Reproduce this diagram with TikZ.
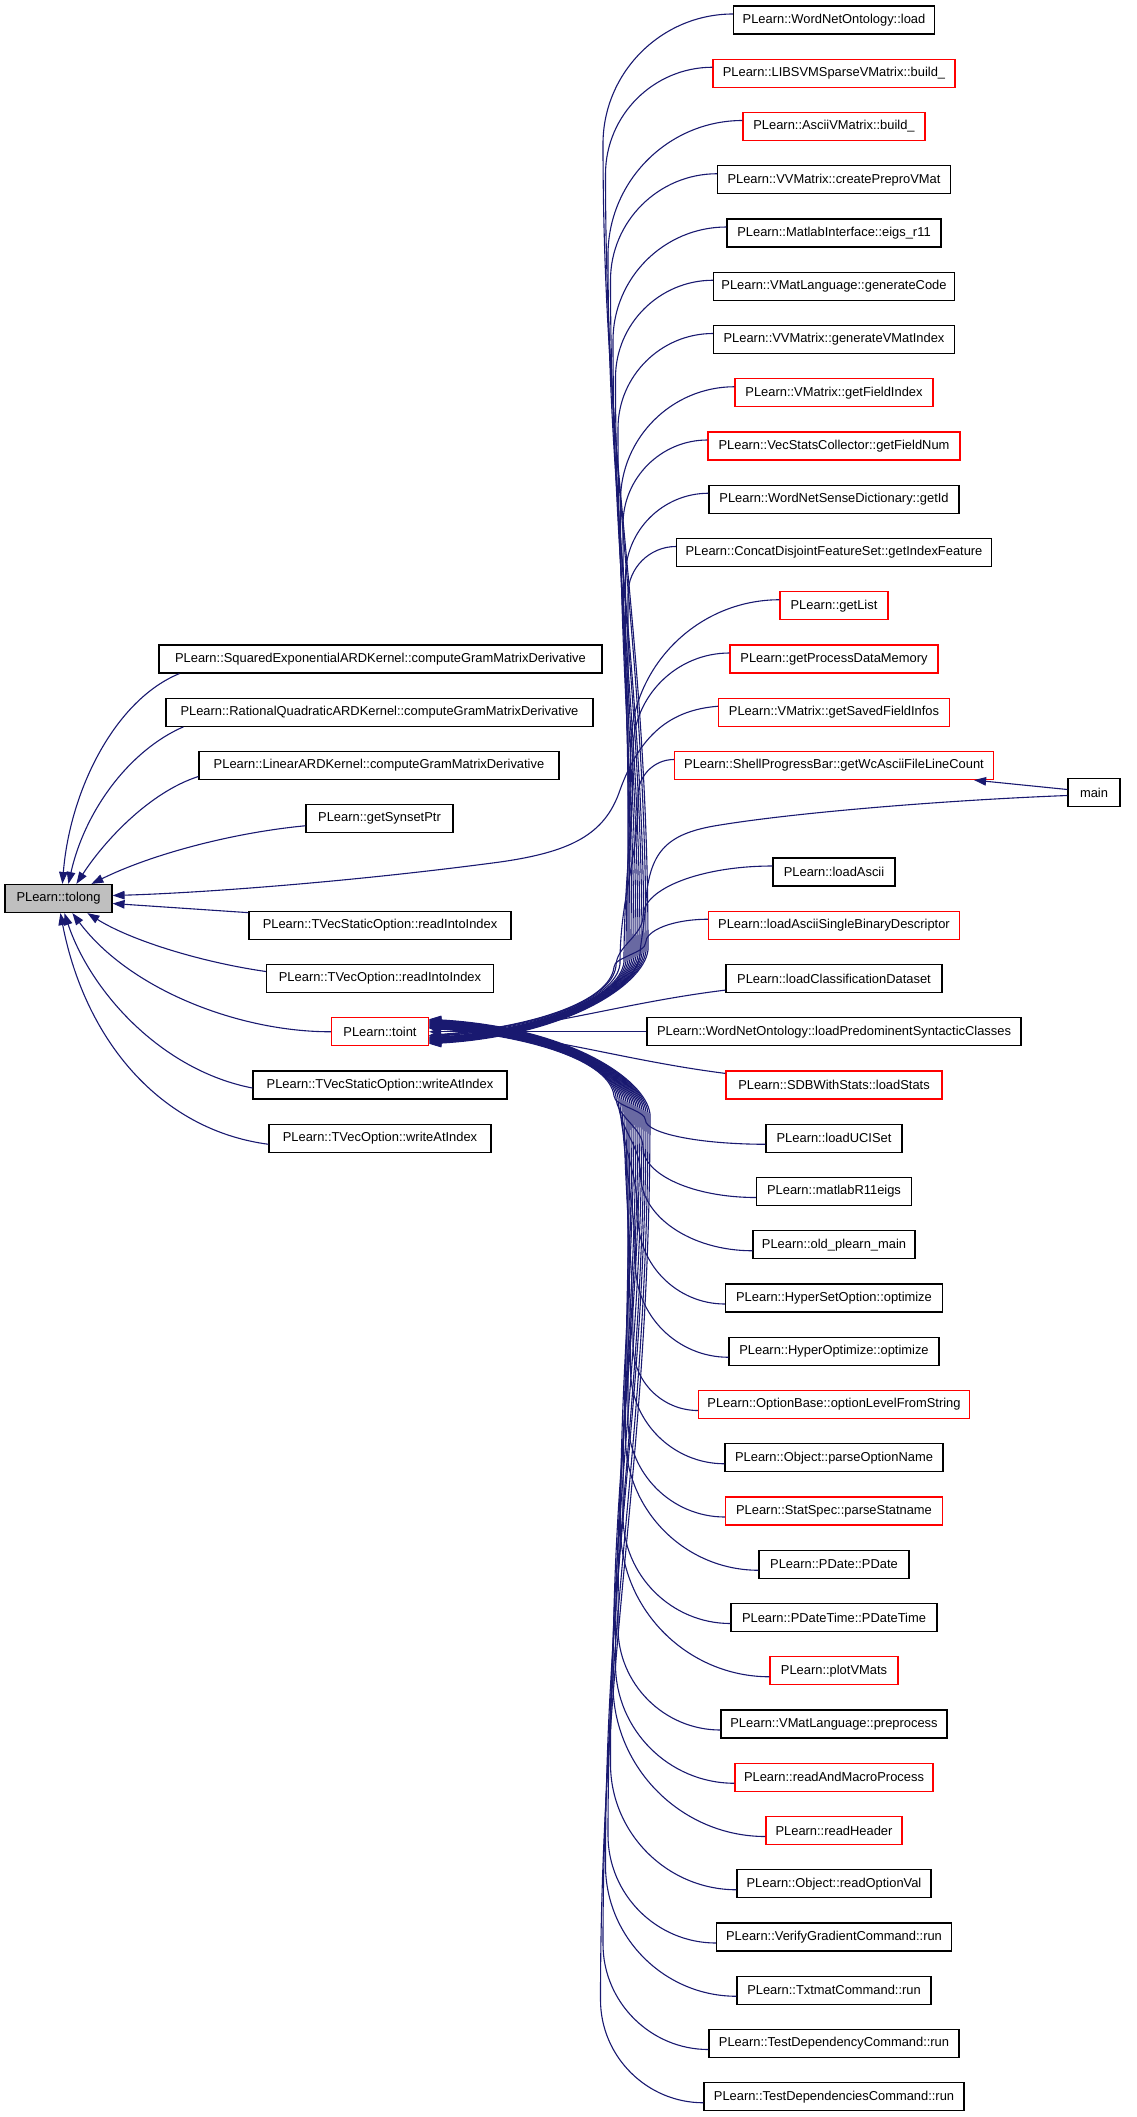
\documentclass[tikz,border=0pt]{standalone}
\usepackage{fontspec}
\setmainfont{Liberation Sans}
\usepackage{tikz}
\usetikzlibrary{arrows.meta,calc,positioning}
\definecolor{edgeblue}{RGB}{25,25,112}
\newdimen\westx
\tikzset{fn/.style={draw=black,rectangle,fill=white,line width=1.2pt,minimum height=28pt,inner xsep=1pt,inner ysep=0pt,font=\fontsize{12.9}{15}\selectfont}}

\begin{document}
\begin{tikzpicture}[>={Triangle[length=12pt,width=8.5pt]}, x=1pt, y=-1pt]
\tikzstyle{call}=[->, draw=edgeblue, line width=1.1pt]
\useasboundingbox (0,0) rectangle (1136,2117);

    \node[fn, fill=gray!50, minimum width=107pt] (tolong) at (58.5,898.5) {PLearn::tolong};

    \node[fn, minimum width=443pt] (sqe) at (380.5,659) {PLearn::SquaredExponentialARDKernel::computeGramMatrixDerivative};
    \node[fn, minimum width=427pt] (rqa) at (379.5,712.25) {PLearn::RationalQuadraticARDKernel::computeGramMatrixDerivative};
    \node[fn, minimum width=360pt] (lin) at (379,765.5) {PLearn::LinearARDKernel::computeGramMatrixDerivative};
    \node[fn, minimum width=147pt] (syn) at (379.5,818.75) {PLearn::getSynsetPtr};
    \node[fn, minimum width=262pt] (tvsr) at (380,925.25) {PLearn::TVecStaticOption::readIntoIndex};
    \node[fn, minimum width=227pt] (tvor) at (380,978.5) {PLearn::TVecOption::readIntoIndex};
    \node[fn, draw=red, minimum width=97pt] (toint) at (380,1031.75) {PLearn::toint};
    \node[fn, minimum width=254pt] (tvsw) at (380,1085) {PLearn::TVecStaticOption::writeAtIndex};
    \node[fn, minimum width=222pt] (tvow) at (380,1138.25) {PLearn::TVecOption::writeAtIndex};

    \node[fn, minimum width=52pt] (main) at (1094,792.5) {main};

\foreach \i/\bw/\col/\txt in {
    0/201/black/{PLearn::WordNetOntology::load},
    1/242/red/{PLearn::LIBSVMSparseVMatrix::build\_},
    2/182/red/{PLearn::AsciiVMatrix::build\_},
    3/233/black/{PLearn::VVMatrix::createPreproVMat},
    4/214/black/{PLearn::MatlabInterface::eigs\_r11},
    5/241/black/{PLearn::VMatLanguage::generateCode},
    6/241/black/{PLearn::VVMatrix::generateVMatIndex},
    7/198/red/{PLearn::VMatrix::getFieldIndex},
    8/252/red/{PLearn::VecStatsCollector::getFieldNum},
    9/250/black/{PLearn::WordNetSenseDictionary::getId},
    10/315/black/{PLearn::ConcatDisjointFeatureSet::getIndexFeature},
    11/108/red/{PLearn::getList},
    12/208/red/{PLearn::getProcessDataMemory},
    13/231/red/{PLearn::VMatrix::getSavedFieldInfos},
    14/319/red/{PLearn::ShellProgressBar::getWcAsciiFileLineCount},
    16/122/black/{PLearn::loadAscii},
    17/251/red/{PLearn::loadAsciiSingleBinaryDescriptor},
    18/216/black/{PLearn::loadClassificationDataset},
    19/374/black/{PLearn::WordNetOntology::loadPredominentSyntacticClasses},
    20/216/red/{PLearn::SDBWithStats::loadStats},
    21/136/black/{PLearn::loadUCISet},
    22/155/black/{PLearn::matlabR11eigs},
    23/162/black/{PLearn::old\_plearn\_main},
    24/217/black/{PLearn::HyperSetOption::optimize},
    25/210/black/{PLearn::HyperOptimize::optimize},
    26/271/red/{PLearn::OptionBase::optionLevelFromString},
    27/218/black/{PLearn::Object::parseOptionName},
    28/217/red/{PLearn::StatSpec::parseStatname},
    29/150/black/{PLearn::PDate::PDate},
    30/206/black/{PLearn::PDateTime::PDateTime},
    31/128/red/{PLearn::plotVMats},
    32/226/black/{PLearn::VMatLanguage::preprocess},
    33/198/red/{PLearn::readAndMacroProcess},
    34/136/red/{PLearn::readHeader},
    35/194/black/{PLearn::Object::readOptionVal},
    36/235/black/{PLearn::VerifyGradientCommand::run},
    37/194/black/{PLearn::TxtmatCommand::run},
    38/250/black/{PLearn::TestDependencyCommand::run},
    39/260/black/{PLearn::TestDependenciesCommand::run}}
{
    \pgfmathsetmacro{\ry}{20+53.25*\i}
    \node[fn, draw=\col, minimum width=\bw pt] (r\i) at (834,\ry) {\txt};
}

    \draw[call] ($(sqe.south west)+(21,0)$) .. controls (115,700) and (70,790) .. ($(tolong.north west)+(58,0)$);
    \draw[call] ($(rqa.south west)+(18,0)$) .. controls (130,750) and (85,810) .. ($(tolong.north west)+(64,0)$);
    \draw[call] ($(lin.west)+(0,11)$) .. controls (150,792) and (105,840) .. ($(tolong.north west)+(72,0)$);
    \draw[call] ($(syn.west)+(0,7)$) .. controls (230,833) and (150,855) .. ($(tolong.north west)+(87,0)$);
    \draw[call] ($(tvsr.north west)+(0,2)$) -- ($(tolong.east)+(0,5)$);
    \draw[call] ($(tvor.west)+(0,-7)$) .. controls (200,962) and (130,940) .. ($(tolong.south west)+(83,0)$);
    \draw[call] (toint.west) .. controls (240,1032) and (130,990) .. ($(tolong.south west)+(68,0)$);
    \draw[call] ($(tvsw.west)+(0,3)$) .. controls (160,1070) and (90,990) .. ($(tolong.south west)+(60,0)$);
    \draw[call] ($(tvow.west)+(0,6)$) .. controls (160,1130) and (85,1040) .. ($(tolong.south west)+(56,0)$);
    \draw[call] ($(r13.west)+(0,-6)$) .. controls (670,710) and (640,735) .. (620,790) .. controls (605,835) and (570,852) .. (500,862) .. controls (350,882) and (200,893) .. ($(tolong.east)+(0,-3)$);

    \draw[call] ($(main.west)+(0,-3)$) -- ($(r14.south east)+(-20,0)$);
    \draw[call] ($(main.west)+(0,3)$) .. controls (950,800) and (800,812) .. (720,825) .. controls (668,833) and (650,850) .. (646,900) .. controls (644,930) and (640,945) .. (640,955) .. controls (634,995) and (560,1029.75) .. ($(toint.east)+(0,6)$);

\foreach \i in {0,...,12,14,16,17}{
    \pgfextractx{\westx}{\pgfpointanchor{r\i}{west}}
    \pgfmathsetmacro{\xo}{\westx}
    \pgfmathsetmacro{\kk}{18-\i}
    \pgfmathsetmacro{\xb}{648-2.5*\kk}
    \pgfmathsetmacro{\xbb}{612+2*\kk}
    \pgfmathsetmacro{\yb}{968-\kk}
    \pgfmathsetmacro{\ys}{20+53.25*\i-6}
    \pgfmathsetmacro{\rr}{min(\xo-\xb,(\yb-\ys)*0.5)}
    \pgfmathsetmacro{\ya}{\ys+\rr}
    \pgfmathsetmacro{\qa}{\xo-0.55*(\xo-\xb)}
    \pgfmathsetmacro{\qb}{\ys+0.45*\rr}
    \pgfmathsetmacro{\qc}{\ya+0.4*(\yb-\ya)}
    \pgfmathsetmacro{\qd}{\yb-0.4*(\yb-\ya)}
    \pgfmathsetmacro{\dt}{3+0.5*\kk}
    \pgfmathsetmacro{\cx}{530+2*\kk}
    \draw[call] ($(r\i.west)+(0,-6)$) .. controls (\qa,\ys) and (\xb,\qb) .. (\xb,\ya) .. controls (\xb,\qc) and (\xbb,\qd) .. (\xbb,\yb) .. controls ({\xbb-4},{\yb+35}) and (\cx,{1023.75+\dt}) .. ($(toint.east)+(0,\dt)$);
}

    \draw[call] ($(r18.south west)+(0,-3)$) .. controls (620,1003) and (540,1030) .. ($(toint.east)+(0,4)$);
    \draw[call] (r19.west) -- (toint.east);
    \draw[call] ($(r20.north west)+(0,3)$) .. controls (620,1060) and (540,1033) .. ($(toint.east)+(0,-4)$);

\foreach \i in {21,...,39}{
    \pgfextractx{\westx}{\pgfpointanchor{r\i}{west}}
    \pgfmathsetmacro{\xo}{\westx}
    \pgfmathsetmacro{\kk}{\i-20}
    \pgfmathsetmacro{\xb}{648-2.5*\kk}
    \pgfmathsetmacro{\xbb}{612+2*\kk}
    \pgfmathsetmacro{\yb}{1095+\kk}
    \pgfmathsetmacro{\ys}{20+53.25*\i+6}
    \pgfmathsetmacro{\rr}{min(\xo-\xb,(\ys-\yb)*0.5)}
    \pgfmathsetmacro{\ya}{\ys-\rr}
    \pgfmathsetmacro{\qa}{\xo-0.55*(\xo-\xb)}
    \pgfmathsetmacro{\qb}{\ys-0.45*\rr}
    \pgfmathsetmacro{\qc}{\ya-0.4*(\ya-\yb)}
    \pgfmathsetmacro{\qd}{\yb+0.4*(\ya-\yb)}
    \pgfmathsetmacro{\dt}{3+0.5*\kk}
    \pgfmathsetmacro{\cx}{530+2*\kk}
    \draw[call] ($(r\i.west)+(0,6)$) .. controls (\qa,\ys) and (\xb,\qb) .. (\xb,\ya) .. controls (\xb,\qc) and (\xbb,\qd) .. (\xbb,\yb) .. controls ({\xbb-4},{\yb-35}) and (\cx,{1039.75-\dt}) .. ($(toint.east)+(0,-\dt)$);
}
\end{tikzpicture}
\end{document}
